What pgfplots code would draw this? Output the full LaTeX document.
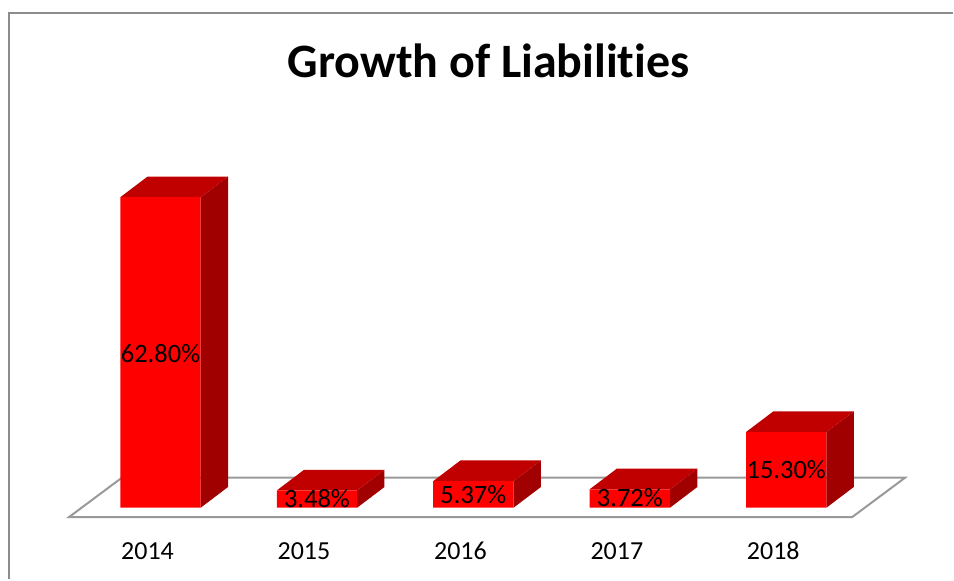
\documentclass[border=0pt]{standalone}
\usepackage{pgfplots}
\pgfplotsset{compat=1.18}
\usepackage{fontspec}
\setmainfont[Ligatures=NoCommon]{Carlito}
\definecolor{frontc}{HTML}{FF0000}
\definecolor{topc}{HTML}{C00000}
\definecolor{sidec}{HTML}{A00000}
\definecolor{framec}{HTML}{8C8C8C}
\definecolor{floorc}{HTML}{999999}
\begin{document}
\begin{tikzpicture}
\begin{axis}[
  scale only axis, width=954pt, height=580pt,
  xmin=-1.0262, xmax=5.0658, ymin=-14.51, ymax=102.69,
  axis line style={draw=none}, axis lines=none,
  clip=false, no markers,
  title={\bfseries Growth of Liabilities},
  title style={at={(axis description cs:0.5126,0.885)},anchor=center,font=\fontsize{48}{52}\selectfont},
]
% frame
\addplot[draw=framec, line width=2pt, forget plot] coordinates {(-.9665,-14.51) (-.9665,100.1) (5.0658,100.1)};
% floor
\addplot[draw=floorc, fill=white, line width=2pt, forget plot] coordinates {(-.5855,-1.92) (4.4208,-1.92) (4.7593,6.06) (-.2471,6.06)} -- cycle;
% sides
\addplot[fill=sidec, draw=none, forget plot] coordinates {(.257,0) (.4315,4.18) (.4315,66.98) (.257,62.8)} -- cycle;
\addplot[fill=sidec, draw=none, forget plot] coordinates {(1.257,0) (1.4315,4.18) (1.4315,7.66) (1.257,3.48)} -- cycle;
\addplot[fill=sidec, draw=none, forget plot] coordinates {(2.257,0) (2.4315,4.18) (2.4315,9.55) (2.257,5.37)} -- cycle;
\addplot[fill=sidec, draw=none, forget plot] coordinates {(3.257,0) (3.4315,4.18) (3.4315,7.90) (3.257,3.72)} -- cycle;
\addplot[fill=sidec, draw=none, forget plot] coordinates {(4.257,0) (4.4315,4.18) (4.4315,19.48) (4.257,15.3)} -- cycle;
% tops
\addplot[fill=topc, draw=none, forget plot] coordinates {(-.257,62.8) (-.0825,66.98) (.4315,66.98) (.257,62.8)} -- cycle;
\addplot[fill=topc, draw=none, forget plot] coordinates {(.743,3.48) (.9175,7.66) (1.4315,7.66) (1.257,3.48)} -- cycle;
\addplot[fill=topc, draw=none, forget plot] coordinates {(1.743,5.37) (1.9175,9.55) (2.4315,9.55) (2.257,5.37)} -- cycle;
\addplot[fill=topc, draw=none, forget plot] coordinates {(2.743,3.72) (2.9175,7.90) (3.4315,7.90) (3.257,3.72)} -- cycle;
\addplot[fill=topc, draw=none, forget plot] coordinates {(3.743,15.3) (3.9175,19.48) (4.4315,19.48) (4.257,15.3)} -- cycle;
% fronts
\addplot[ybar, bar width=80.5pt, fill=frontc, draw=none, forget plot] coordinates {(0,62.8) (1,3.48) (2,5.37) (3,3.72) (4,15.3)};
% data labels, at mid-height of the bars
\addplot[only marks, mark=none, forget plot, point meta=explicit symbolic,
  nodes near coords, nodes near coords align={center},
  every node near coord/.style={font=\fontsize{26.5}{30}\selectfont, text=black, inner sep=0pt, text height=17pt, text depth=0pt}]
  coordinates {(0,31.1)[62.80\%] (1,1.78)[3.48\%] (2,2.6)[5.37\%] (3,1.86)[3.72\%] (4,7.6)[15.30\%]};
% category labels
\addplot[only marks, mark=none, forget plot, point meta=explicit symbolic,
  nodes near coords, nodes near coords align={center},
  every node near coord/.style={font=\fontsize{26}{30}\selectfont, text=black, inner sep=0pt, xshift=-13pt, text height=17pt, text depth=0pt}]
  coordinates {(0,-8.79)[2014] (1,-8.79)[2015] (2,-8.79)[2016] (3,-8.79)[2017] (4,-8.79)[2018]};
\path[use as bounding box] (rel axis cs:0,0) rectangle (rel axis cs:1,1);
\end{axis}
\end{tikzpicture}
\end{document}
